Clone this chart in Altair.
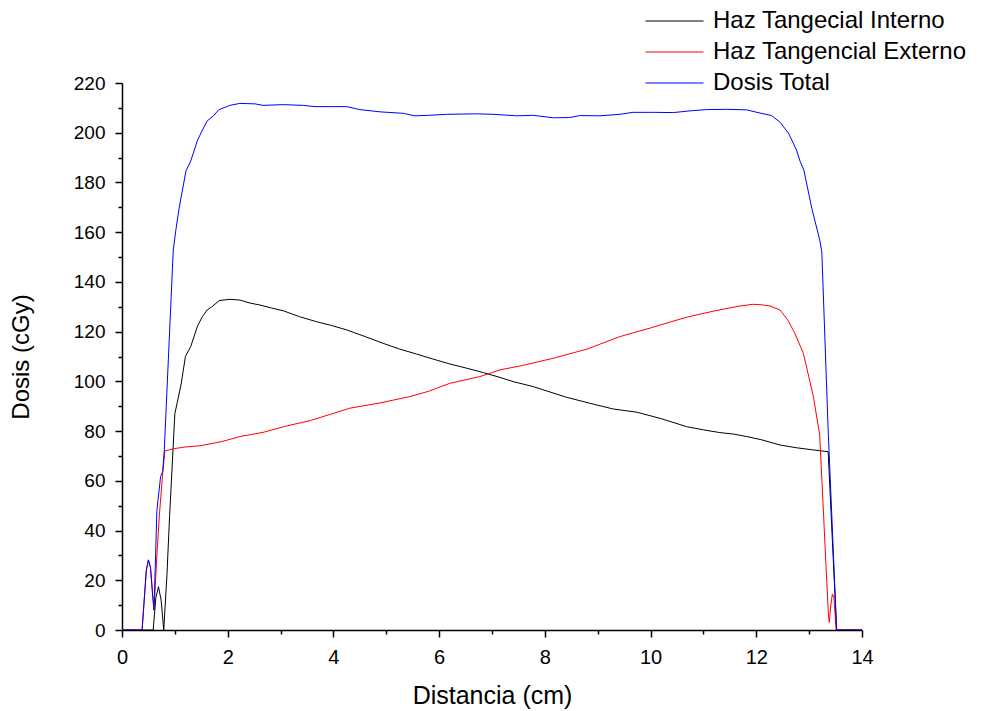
import altair as alt
import pandas as pd

series_names = ["Haz Tangecial Interno", "Haz Tangencial Externo", "Dosis Total"]
series_colors = ["#000000", "#ff0000", "#0000ff"]

x_interno = [0, 0.59, 0.64, 0.69, 0.74, 0.79, 0.85, 0.90, 1.00, 1.12, 1.20, 1.30, 1.43, 1.52, 1.61, 1.70,
             1.84, 2.04, 2.23, 2.42, 2.61, 2.83, 3.05, 3.36, 3.68, 3.96, 4.25, 4.60, 4.94, 5.25, 5.57,
             5.88, 6.20, 6.52, 6.84, 7.15, 7.40, 7.78, 8.10, 8.41, 8.85, 9.29, 9.74, 10.2, 10.68, 11.0,
             11.31, 11.57, 11.82, 12.1, 12.45, 12.76, 13.05, 13.36, 13.52, 14]
y_interno = [0, 0, 13, 17.4, 12, 0, 22, 45.6, 87, 99, 110, 114, 122.3, 126, 128.7, 130,
             132.5, 133, 132.7, 131.5, 130.7, 129.5, 128.4, 126, 124, 122.5, 120.7, 118, 115.3, 113, 111,
             109, 107, 105.3, 103.5, 101.6, 99.9, 97.9, 95.7, 93.6, 91.2, 88.9, 87.6, 85, 81.8, 80.5,
             79.4, 78.8, 77.8, 76.5, 74.4, 73.3, 72.5, 71.7, 0, 0]

x_externo = [0, 0.38, 0.42, 0.46, 0.50, 0.54, 0.58, 0.605, 0.66, 0.71, 0.77, 0.81, 1.0, 1.2, 1.48, 1.89,
             2.23, 2.67, 3.1, 3.56, 3.95, 4.31, 4.9, 5.45, 5.8, 6.20, 6.77, 7.15, 7.6, 8.16, 8.8, 9.42,
             10.0, 10.68, 11.2, 11.69, 11.94, 12.1, 12.26, 12.45, 12.6, 12.73, 12.89, 13.08, 13.20, 13.36,
             13.38, 13.41, 13.44, 13.47, 13.51, 14]
y_externo = [0, 0, 12, 24, 28.2, 25, 14, 8, 30, 47, 63, 72, 73, 73.6, 74.1, 75.8,
             77.8, 79.5, 82, 84.2, 86.8, 89.2, 91.4, 93.9, 96, 99.2, 101.9, 104.6, 106.5, 109.3, 113, 118,
             121.5, 125.8, 128.3, 130.3, 131, 130.8, 130.3, 128.7, 124.5, 119.3, 111.3, 93.9, 78.4, 8,
             3, 10, 14.5, 13, 0, 0]

x_total = [0, 0.38, 0.42, 0.46, 0.50, 0.54, 0.58, 0.605, 0.66, 0.73, 0.77, 0.80, 0.97, 1.02, 1.08, 1.21,
           1.30, 1.43, 1.52, 1.61, 1.73, 1.83, 2.04, 2.23, 2.52, 2.67, 3.05, 3.43, 3.65, 4.0, 4.25, 4.50,
           4.88, 5.32, 5.54, 5.8, 6.14, 6.71, 7.02, 7.47, 7.78, 8.16, 8.47, 8.66, 9.04, 9.42, 9.67, 10.05,
           10.43, 10.75, 11.06, 11.44, 11.82, 12.01, 12.29, 12.45, 12.61, 12.76, 12.83, 12.90, 13.05,
           13.20, 13.24, 13.36, 13.52, 14]
y_total = [0, 0, 12, 24, 28.2, 25, 14, 8, 48, 61.7, 63.7, 72.4, 152.8, 161, 169.6, 184.6,
           188.6, 197, 201, 204.7, 206.8, 209.2, 211, 211.8, 211.6, 211, 211.3, 211, 210.5, 210.5, 210.5, 209.3,
           208.4, 207.8, 206.8, 207, 207.4, 207.6, 207.4, 206.8, 207, 206, 206.1, 206.9, 206.8, 207.4, 208.2, 208.2,
           208.1, 208.8, 209.3, 209.4, 209.2, 208.2, 206.9, 204.2, 199.8, 193.1, 188.4, 185, 169.6,
           156.9, 152, 80.4, 0, 0]

x_major = [0, 2, 4, 6, 8, 10, 12, 14]
x_minor = [1, 3, 5, 7, 9, 11, 13]
y_major = [0, 20, 40, 60, 80, 100, 120, 140, 160, 180, 200, 220]
y_minor = [10, 30, 50, 70, 90, 110, 130, 150, 170, 190, 210]

rows = []
for name, xs, ys in zip(series_names, [x_interno, x_externo, x_total], [y_interno, y_externo, y_total]):
    for i, (xv, yv) in enumerate(zip(xs, ys)):
        rows.append({"serie": name, "x": xv, "y": yv, "i": i})
df = pd.DataFrame(rows)

FONT = "Liberation Sans"

xscale = alt.Scale(domain=[0, 14], nice=False, zero=False)
yscale = alt.Scale(domain=[0, 220], nice=False)

lines = alt.Chart(df).mark_line(strokeWidth=1, clip=True).encode(
    x=alt.X("x:Q", scale=xscale,
            axis=alt.Axis(orient="bottom", values=x_major, format="d", title="Distancia (cm)",
                          tickSize=7, labelPadding=10, titlePadding=16, labelFontSize=20,
                          titleFontSize=25, labelFlush=False)),
    y=alt.Y("y:Q", scale=yscale,
            axis=alt.Axis(orient="left", values=y_major, format="d", title="Dosis (cGy)",
                          tickSize=7, labelPadding=10, titlePadding=40, labelFlush=False)),
    color=alt.Color("serie:N", sort=series_names,
                    scale=alt.Scale(domain=series_names, range=series_colors),
                    legend=alt.Legend(title=None, orient="none", legendX=523, legendY=-74,
                                      symbolType="stroke", symbolSize=3364, symbolStrokeWidth=1,
                                      labelFontSize=24, labelLimit=500, labelOffset=9,
                                      clipHeight=24, rowPadding=7, labelFont=FONT,
                                      labelColor="black")),
    order="i:Q",
)

minor = alt.Chart(df).mark_line(opacity=0).encode(
    x=alt.X("x:Q", scale=xscale,
            axis=alt.Axis(orient="bottom", values=x_minor, labels=False, domain=False, title=None,
                          tickSize=4)),
    y=alt.Y("y:Q", scale=yscale,
            axis=alt.Axis(orient="left", values=y_minor, labels=False, domain=False, title=None,
                          tickSize=4)),
    detail="serie:N",
)

chart = alt.layer(lines, minor).resolve_axis(x="independent", y="independent").properties(
    width=740, height=547,
    background="white",
    autosize=alt.AutoSizeParams(type="none"),
    padding={"left": 122, "top": 83, "right": 130, "bottom": 81},
).configure_view(stroke=None).configure_axis(
    grid=False, domainColor="black", tickColor="black", domainWidth=1.5, tickWidth=1.5,
    labelFont=FONT, titleFont=FONT, labelFontSize=19, titleFontSize=24,
    labelColor="black", titleColor="black", titleFontWeight="normal",
)

chart.save("out.html", embed_options={"renderer": "svg", "actions": False})
